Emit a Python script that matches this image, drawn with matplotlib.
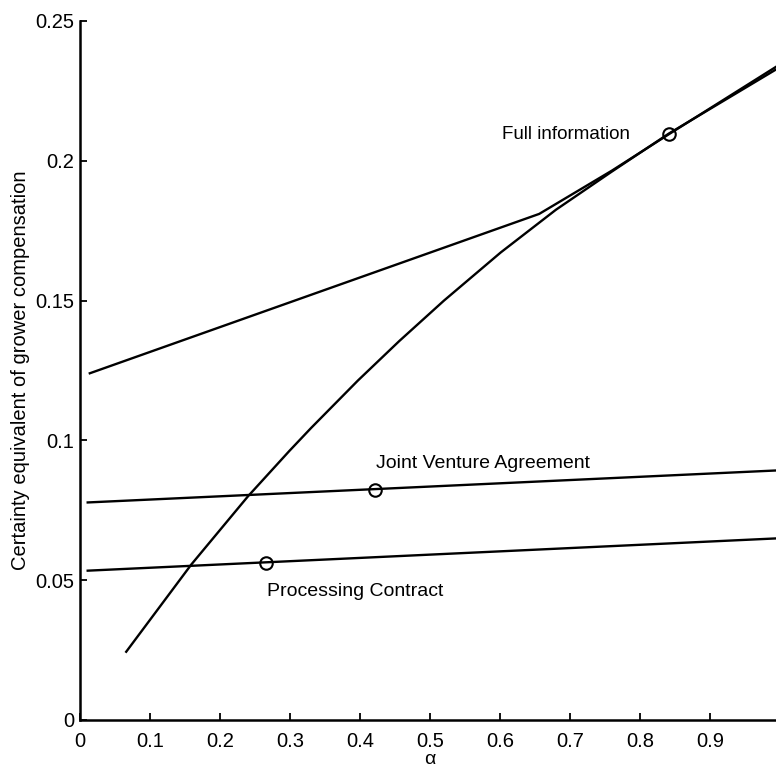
import numpy as np
import matplotlib
matplotlib.use("Agg")
import matplotlib.pyplot as plt

plt.rcParams['font.family'] = ['Liberation Sans', 'DejaVu Sans']

# full information: kinked line that runs onto the curve
full_x = [0.014, 0.656, 0.76, 0.84, 1.0]
full_y = [0.124, 0.181, 0.1965, 0.2093, 0.2345]

# concave curve
curve_x = [0.066, 0.159, 0.24, 0.299, 0.33, 0.397, 0.456, 0.52, 0.601, 0.68, 0.759, 0.841, 1.0]
curve_y = [0.0244, 0.0556, 0.0800, 0.0962, 0.1044, 0.1214, 0.1355, 0.1500, 0.1672, 0.1825, 0.196, 0.2097, 0.2335]

# joint venture agreement and processing contract lines
jv_x = [0.011, 1.0]
jv_y = [0.0778, 0.0893]
pc_x = [0.011, 1.0]
pc_y = [0.0534, 0.0650]

# circle markers
marker_x = [0.841, 0.421, 0.266]
marker_y = [0.2095, 0.0824, 0.0563]

xticks = [0, 0.1, 0.2, 0.3, 0.4, 0.5, 0.6, 0.7, 0.8, 0.9, 1.0]
xtick_labels = ['0', '0.1', '0.2', '0.3', '0.4', '0.5', '0.6', '0.7', '0.8', '0.9', '1']
yticks = [0, 0.05, 0.1, 0.15, 0.2, 0.25]
ytick_labels = ['0', '0.05', '0.1', '0.15', '0.2', '0.25']

fig = plt.figure(figsize=(7.76, 7.72), dpi=100)
ax = fig.add_axes([0.1031, 0.0674, 0.902, 0.9054])

lw = 1.7
ax.plot(full_x, full_y, color='black', lw=lw)
ax.plot(curve_x, curve_y, color='black', lw=lw)
ax.plot(jv_x, jv_y, color='black', lw=lw)
ax.plot(pc_x, pc_y, color='black', lw=lw)
ax.plot(marker_x, marker_y, linestyle='none', marker='o', markersize=9,
        mfc='none', mec='black', mew=1.5)

ax.text(0.786, 0.2095, 'Full information', fontsize=13.5, ha='right', va='center')
ax.text(0.423, 0.0918, 'Joint Venture Agreement', fontsize=14, ha='left', va='center')
ax.text(0.267, 0.0459, 'Processing Contract', fontsize=14, ha='left', va='center')

ax.set_xlim(0, 1.0)
ax.set_ylim(0, 0.25)
ax.set_xticks(xticks)
ax.set_xticklabels(xtick_labels)
ax.set_yticks(yticks)
ax.set_yticklabels(ytick_labels)
ax.tick_params(direction='in', length=5, width=1.3, labelsize=14.5)
ax.tick_params(axis='x', pad=9)
ax.tick_params(axis='y', pad=4)

for side in ['top', 'right']:
    ax.spines[side].set_visible(False)
for side in ['left', 'bottom']:
    ax.spines[side].set_linewidth(1.8)

ax.set_xlabel('α', fontsize=14, labelpad=0)
ax.set_ylabel('Certainty equivalent of grower compensation', fontsize=14.5, labelpad=4)

fig.savefig('out.png', dpi=100)
